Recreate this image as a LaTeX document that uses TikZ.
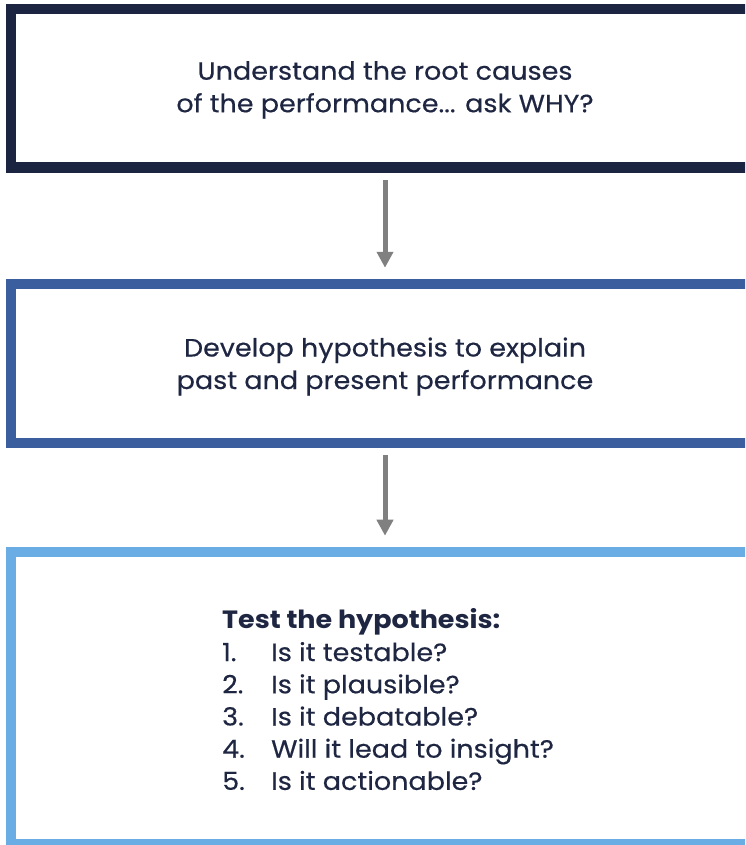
\documentclass[tikz,border=0pt]{standalone}
\usepackage{fontspec}
\setmainfont{Poppins}[FakeStretch=1.08, FakeBold=0.4]
\newfontfamily\headfont{Poppins}[FakeStretch=1.08]
\usetikzlibrary{arrows.meta}
\definecolor{navy}{HTML}{1B2440}
\definecolor{midblue}{HTML}{3A5E9E}
\definecolor{skyblue}{HTML}{6AADE4}
\definecolor{textnavy}{HTML}{1E2642}
\definecolor{arrowgray}{HTML}{808080}
\begin{document}
\begin{tikzpicture}[x=1pt,y=-1pt,
  stage/.style={draw, rectangle, line width=10.5pt, minimum width=749pt},
  label/.style={inner sep=0pt, text=textnavy, font=\fontsize{25}{32.5}\selectfont},
  flow/.style={arrowgray, line width=5pt, -{Triangle[width=16pt,length=16pt]}}]
\useasboundingbox (0,0) rectangle (745,845);
\clip (0,0) rectangle (745,845);
\node[stage, navy, minimum height=158.5pt] (why) at (385.5,88.25) {};
\node[stage, midblue, minimum height=159pt] (hyp) at (385.5,363.5) {};
\node[stage, skyblue, minimum height=292.25pt] (test) at (385.5,698.1) {};
\node[label, align=center] (whytext) at (385,90) {Understand the root causes\\of the performance... ask WHY?};
\node[label, align=center] (hyptext) at (385,366.5) {Develop hypothesis to explain\\past and present performance};
\node[label, font=\fontsize{25}{32.2}\selectfont, align=left, anchor=west] (testtext) at (222,699.5) {{\headfont\bfseries Test the hypothesis:}\\
\makebox[49pt][l]{1.}Is it testable?\\
\makebox[49pt][l]{2.}Is it plausible?\\
\makebox[49pt][l]{3.}Is it debatable?\\
\makebox[49pt][l]{4.}Will it lead to insight?\\
\makebox[49pt][l]{5.}Is it actionable?};
\draw[flow, shorten <=7pt, shorten >=11pt] (why.south -| whytext) -- (hyp.north -| whytext);
\draw[flow, shorten <=7pt, shorten >=11pt] (hyp.south -| whytext) -- (test.north -| whytext);
\end{tikzpicture}
\end{document}
